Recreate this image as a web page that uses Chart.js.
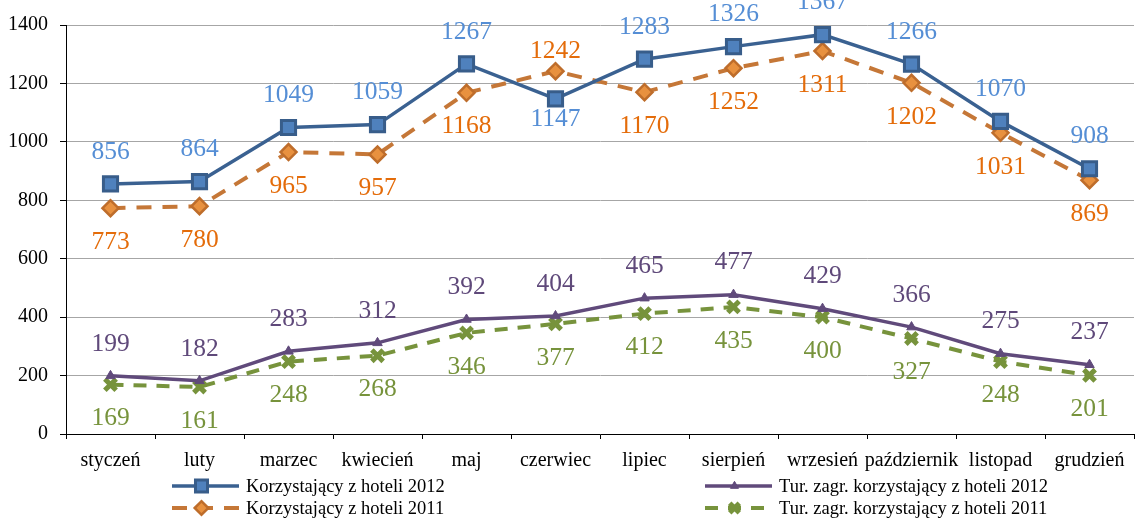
<!DOCTYPE html>
<html><head><meta charset="utf-8">
<script src="https://cdn.jsdelivr.net/npm/chart.js@4/dist/chart.umd.min.js"></script>
<style>html,body{margin:0;padding:0;background:#fff;overflow:hidden;width:1137px;height:518px}canvas{display:block}</style>
</head><body><canvas id="c" width="1147" height="518"></canvas>
<script>
const categories = ['styczeń','luty','marzec','kwiecień','maj','czerwiec','lipiec','sierpień','wrzesień','październik','listopad','grudzień'];
const hotels2012 = [856,864,1049,1059,1267,1147,1283,1326,1367,1266,1070,908];
const hotels2011 = [773,780,965,957,1168,1242,1170,1252,1311,1202,1031,869];
const foreign2012 = [199,182,283,312,392,404,465,477,429,366,275,237];
const foreign2011 = [169,161,248,268,346,377,412,435,400,327,248,201];
const seriesNames = ['Korzystający z hoteli 2012','Korzystający z hoteli 2011','Tur. zagr. korzystający z hoteli 2012','Tur. zagr. korzystający z hoteli 2011'];
const yMin = 0, yMax = 1400, yStep = 200;

const SERIF = '"Liberation Serif","Times New Roman",serif';

const datasets = [
  {label:seriesNames[0], data:hotels2012, borderColor:'#3A6191', borderWidth:3.5,
   pointStyle:'rect', pointRadius:10, pointBackgroundColor:'#4F81BD', pointBorderColor:'#385D8A', pointBorderWidth:3,
   labelColor:'#558ED5', pair:1, upper:true, legendX:172, legendY:486},
  {label:seriesNames[1], data:hotels2011, borderColor:'#C57737', borderWidth:4, borderDash:[15,11],
   pointStyle:'rectRot', pointRadius:8, pointBackgroundColor:'#E8913F', pointBorderColor:'#BE6D2B', pointBorderWidth:2.5,
   labelColor:'#E46C0A', pair:0, upper:false, legendX:172, legendY:508},
  {label:seriesNames[2], data:foreign2012, borderColor:'#604A7B', borderWidth:3.5,
   pointStyle:'triangle', pointRadius:5.5, pointBackgroundColor:'#604A7B', pointBorderColor:'#604A7B', pointBorderWidth:1,
   labelColor:'#5F497A', pair:3, upper:true, legendX:705, legendY:486},
  {label:seriesNames[3], data:foreign2011, borderColor:'#77933C', borderWidth:4, borderDash:[13,10],
   pointStyle:'crossRot', pointRadius:8, pointBackgroundColor:'#8DB048', pointBorderColor:'#77933C', pointBorderWidth:5,
   labelColor:'#77933C', pair:2, upper:false, legendX:705, legendY:508}
];
datasets.forEach(d=>{d.tension=0;d.fill=false;d.clip=false;d.pointHoverRadius=d.pointRadius;});

const labelPlugin = {
  id:'valueLabels',
  afterDatasetsDraw(chart){
    const ctx = chart.ctx;
    ctx.save();
    ctx.font = '25.5px ' + SERIF;
    ctx.textAlign = 'center';
    ctx.textBaseline = 'middle';
    chart.data.datasets.forEach((ds,i)=>{
      const meta = chart.getDatasetMeta(i);
      const other = chart.data.datasets[ds.pair].data;
      meta.data.forEach((pt,j)=>{
        const v = ds.data[j];
        const above = ds.upper ? v >= other[j] : v > other[j];
        const crossed = ds.upper ? v < other[j] : v > other[j];
        let off = above ? 32 : 34;
        if (crossed) off = 20;
        ctx.fillStyle = ds.labelColor;
        ctx.fillText(String(v), pt.x, pt.y + (above ? -off : off));
      });
    });
    ctx.restore();
  }
};

const legendPlugin = {
  id:'customLegend',
  afterDraw(chart){
    const ctx = chart.ctx;
    ctx.save();
    chart.data.datasets.forEach(ds=>{
      const x0 = ds.legendX, x1 = x0 + 67, y = ds.legendY;
      ctx.strokeStyle = ds.borderColor;
      ctx.lineWidth = ds.borderWidth;
      ctx.setLineDash(ds.borderDash || []);
      ctx.beginPath(); ctx.moveTo(x0,y); ctx.lineTo(x1,y); ctx.stroke();
      ctx.setLineDash([]);
      ctx.fillStyle = ds.pointBackgroundColor;
      ctx.strokeStyle = ds.pointBorderColor;
      ctx.lineWidth = ds.pointBorderWidth;
      Chart.helpers.drawPoint(ctx, {pointStyle:ds.pointStyle, radius:ds.pointRadius*0.85, rotation:0, borderWidth:ds.pointBorderWidth}, (x0+x1)/2-4, y);
      ctx.fillStyle = '#000';
      ctx.font = '18.5px ' + SERIF;
      ctx.textAlign = 'left';
      ctx.textBaseline = 'middle';
      ctx.fillText(ds.label, x1 + 7, y + 1);
    });
    ctx.restore();
  }
};

new Chart(document.getElementById('c'), {
  type:'line',
  data:{labels:categories, datasets:datasets},
  options:{
    responsive:false, animation:false, devicePixelRatio:1,
    layout:{padding:{top:25,left:8,right:1,bottom:44}},
    plugins:{legend:{display:false}, tooltip:{enabled:false}},
    scales:{
      x:{
        offset:true,
        grid:{offset:true, drawOnChartArea:false, tickLength:5, tickColor:'#000', lineWidth:1},
        border:{color:'#000', width:1},
        ticks:{color:'#000', font:{family:SERIF, size:20}, padding:10, maxRotation:0, autoSkip:false},
        afterFit(s){ s.height = 40; }
      },
      y:{
        min:yMin, max:yMax,
        grid:{color:'#A6A6A6', lineWidth:1, tickLength:6, tickColor:'#000'},
        border:{color:'#000', width:1},
        ticks:{stepSize:yStep, color:'#000', font:{family:SERIF, size:20}, padding:12, callback:(v)=>String(v)},
        afterFit(s){ s.width = 58; }
      }
    }
  },
  plugins:[labelPlugin, legendPlugin]
});
</script>
</body></html>
